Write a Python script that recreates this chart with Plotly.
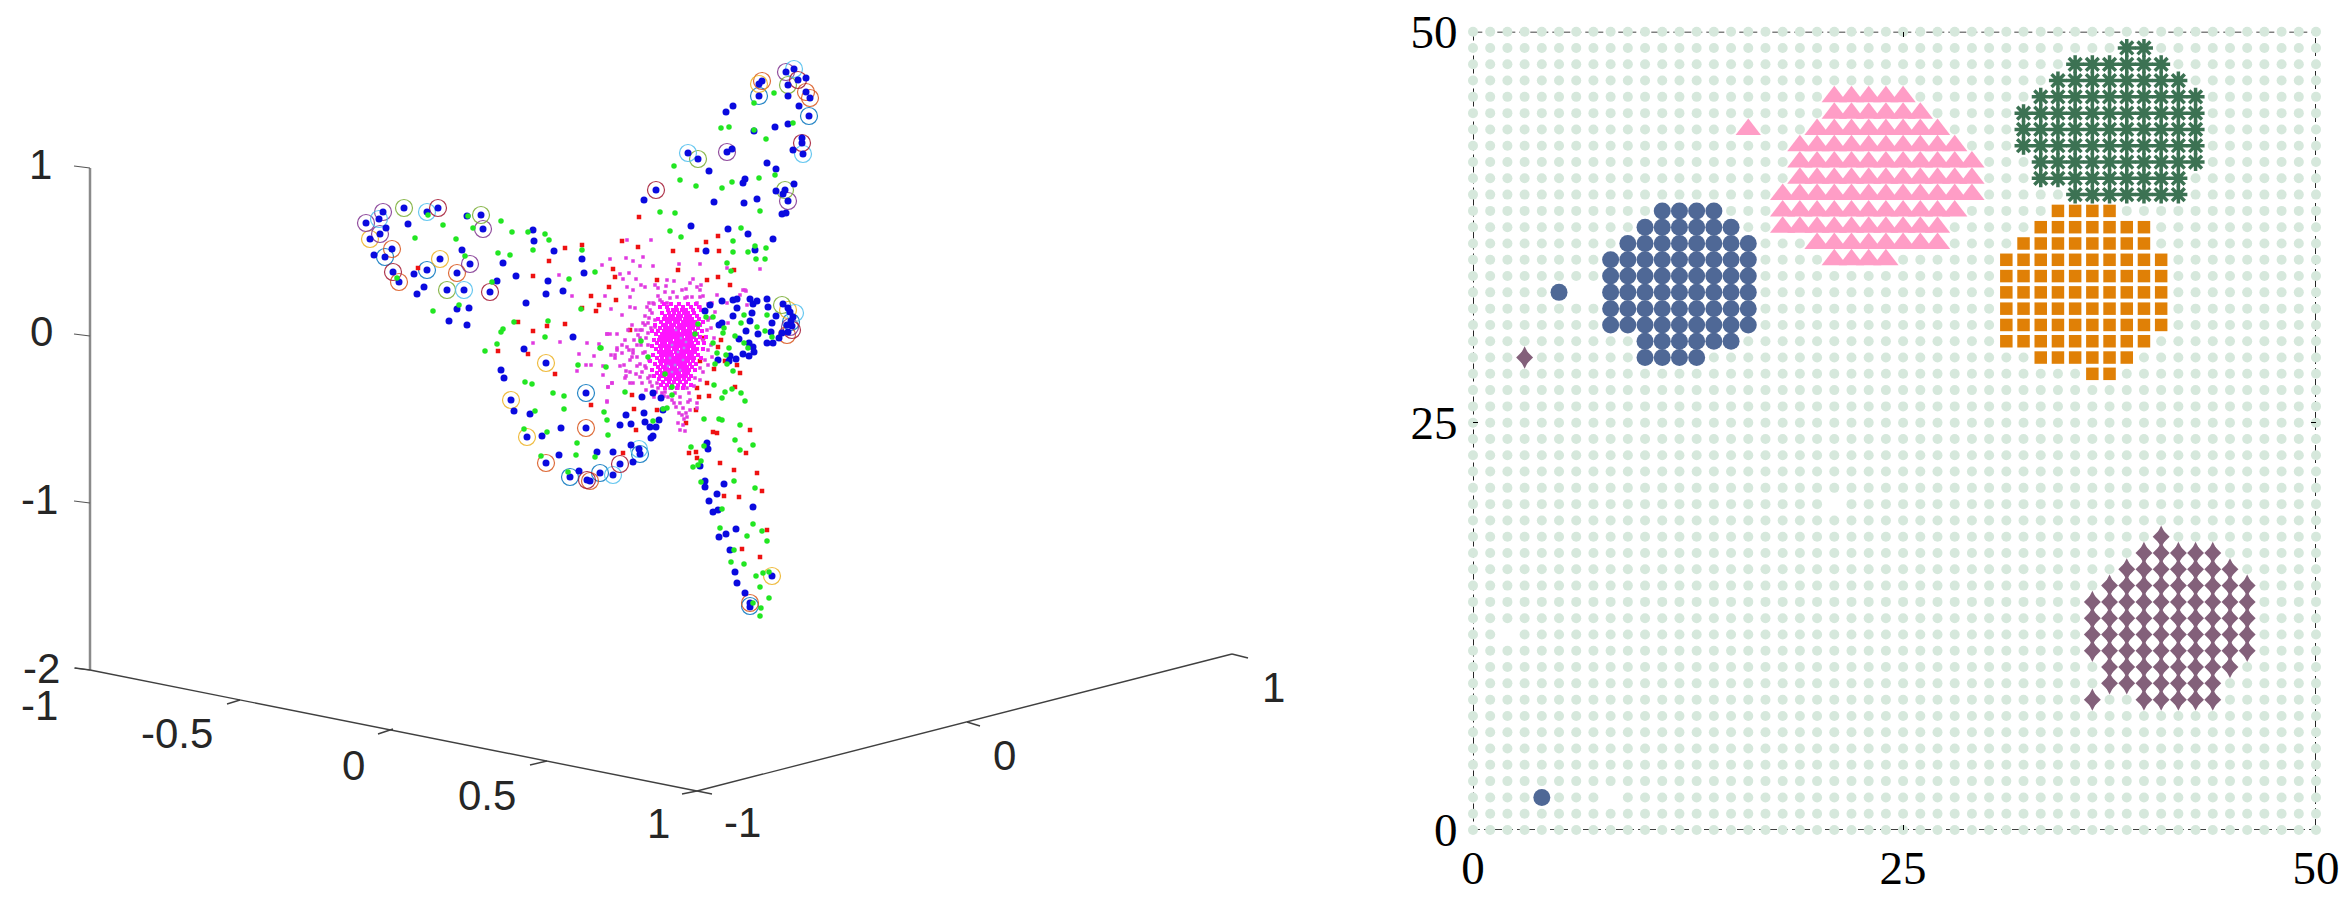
# -*- coding: utf-8 -*-
import plotly.graph_objects as go

W = 2348
H = 898

# ---- left panel: 3d view, values read as positions on the projected plane ----
blue_upper = [(786,72),(794,69),(798,80),(806,78),(762,81),(759,84),(788,85),(806,92),(810,98),(788,96),(759,96),
              (799,106),(809,116),(733,106),(726,112),(788,124),(775,127),(754,131),(802,138),(802,143),(793,150),
              (803,154),(732,149),(727,152),(688,153),(698,159),(767,163),(776,169),(709,171),(794,184),(745,179),
              (743,183),(656,190),(776,191),(785,190),(783,194),(788,201),(644,200),(757,199),(714,202),(744,203),
              (782,214),(786,213),(691,226),(728,229),(748,234),(773,239),(755,250),(706,251)]
blue_left = [(366,223),(379,219),(383,212),(386,228),(404,208),(408,224),(427,212),(438,208),(467,216),(481,215),
             (483,229),(380,234),(370,239),(392,249),(374,255),(385,257),(440,259),(462,250),(470,264),(427,270),
             (414,274),(393,272),(399,282),(457,273),(424,287),(417,294),(447,290),(464,290),(490,292),(457,309),
             (469,308),(449,321),(467,325),(533,230),(534,241),(554,251),(582,259),(503,263),(516,276),(497,281),
             (584,273),(548,281),(563,291),(546,294),(526,303),(573,337)]
blue_lobe = [(710,305),(705,311),(722,301),(733,300),(737,299),(737,308),(750,299),(753,304),(757,301),(767,299),
             (783,304),(768,307),(788,308),(790,312),(793,317),(791,321),(752,313),(733,316),(776,316),(750,321),
             (772,323),(722,323),(719,325),(787,325),(792,326),(746,331),(758,334),(771,332),(739,339),(779,338),
             (782,333),(788,332),(767,343),(773,343),(749,343),(753,347),(754,352),(743,354),(749,356),(730,356),
             (736,359),(718,360),(729,361)]
blue_lower = [(642,397),(661,398),(653,393),(626,415),(644,413),(620,425),(631,424),(645,422),(650,427),(656,427),
              (659,420),(653,436),(651,438),(524,349),(501,370),(504,378),(546,363),(586,393),(511,400),(514,411),
              (530,414),(663,410),(561,428),(586,428),(542,436),(527,437),(631,445),(597,452),(613,452),(639,449),
              (640,454),(559,455),(546,463),(633,462),(620,464),(600,473),(613,475),(579,471),(570,477),(587,480),
              (590,481)]
blue_tail = [(707,443),(708,449),(700,466),(705,481),(705,487),(724,484),(717,494),(709,501),(713,512),(718,510),
             (753,507),(736,529),(726,534),(719,537),(730,550),(735,572),(737,583),(772,576),(745,593),(750,603),
             (750,607)]

green_upper = [(774,93),(754,103),(793,123),(721,128),(729,127),(754,130),(766,139),(674,166),(775,175),(680,180),
               (696,186),(722,188),(732,182),(759,178),(660,212),(675,213),(760,211),(670,231),(741,228),(681,237),
               (733,241),(755,246),(766,248),(733,252),(748,252),(756,259),(765,259),(727,263),(731,271)]
green_left = [(428,215),(443,225),(415,238),(456,239),(468,216),(473,228),(501,221),(512,232),(528,232),(545,234),
              (549,240),(533,250),(498,253),(510,255),(582,250),(465,256),(569,279),(595,272),(492,282),(397,278),
              (459,305),(433,311),(581,309),(548,321),(514,322),(503,329),(501,332),(545,337)]
green_lobe = [(695,334),(698,324),(706,317),(713,317),(744,315),(741,323),(767,315),(724,328),(723,333),(757,327),
              (765,331),(713,343),(735,336),(772,337),(744,343),(748,348),(729,348),(717,353),(726,355),(727,364),
              (715,364),(733,371),(641,341),(648,357),(606,367),(665,374),(672,387),(672,395),(601,348)]
green_lower = [(497,344),(485,351),(600,348),(578,365),(525,382),(532,384),(553,393),(564,396),(564,409),(535,411),
               (604,412),(607,420),(608,435),(625,392),(663,409),(667,408),(653,421),(524,429),(547,432),(577,443),
               (576,455),(595,457),(541,456),(568,472)]
green_tail = [(714,385),(725,392),(732,389),(741,393),(722,398),(745,401),(704,419),(719,419),(722,420),(740,425),
              (735,440),(753,445),(691,447),(704,446),(740,450),(701,461),(693,467),(698,465),(734,481),(701,482),
              (755,488),(722,509),(753,524),(720,528),(762,531),(747,536),(767,541),(734,550),(731,562),(744,564),
              (769,572),(763,573),(756,576),(760,587),(769,598),(761,608),(760,616),(753,603)]

red_pts = [(639,217),(718,236),(706,242),(638,247),(673,251),(697,250),(719,251),(622,241),(582,245),(565,248),
           (549,261),(418,268),(533,276),(613,269),(615,277),(678,270),(734,270),(718,277),(707,280),(657,280),
           (730,285),(609,287),(591,296),(616,300),(599,305),(596,311),(582,308),(518,322),(547,326),(565,324),
           (533,331),(630,330),(703,338),(721,340),(718,347),(700,361),(725,361),(737,365),(714,369),(740,373),
           (707,383),(697,388),(735,387),(709,396),(699,397),(632,395),(634,409),(657,410),(686,423),(696,410),
           (636,430),(713,432),(717,433),(750,430),(498,351),(528,354),(555,374),(591,405),(689,453),(696,452),
           (697,458),(746,453),(720,463),(734,470),(757,473),(762,491),(724,496),(739,497),(767,530),(742,549),
           (760,557),(623,453)]

magenta_top = [(627,240),(651,240),(610,259),(602,265),(626,258),(633,261),(643,257),(640,266),(653,266),(679,264),
               (700,264),(760,269),(559,275),(629,273),(623,279),(620,274),(636,279),(641,285),(627,287),(633,290),
               (645,287),(572,296),(605,296),(630,297),(667,280),(674,281),(693,279),(666,286),(686,289),(697,287),
               (701,285),(655,285),(658,288),(743,290),(746,291),(727,268),(611,309),(622,315),(630,307),(635,308),
               (632,325),(645,316),(649,303),(653,303),(662,302),(670,298),(677,297),(685,298),(692,297),(700,297),
               (610,334),(607,334),(648,323),(655,327),(642,330),(638,335)]
magenta_side = [(617,334),(607,334),(617,348),(611,355),(615,355),(603,366),(625,340),(622,353),(624,365),(630,372),
                (626,376),(633,350),(632,357),(637,357),(643,353),(640,364),(645,366),(633,383),(642,383),(612,383),
                (608,387),(607,401),(650,382),(657,383),(648,333),(640,330),(643,323),(655,320),(647,307),(652,313),
                (660,300),(667,303),(673,292),(682,290),(690,283),(700,290),(697,303),(687,297),(707,330),(708,320),
                (715,312),(700,307),(703,340),(708,350),(705,360),(700,368),(695,378),(717,295),(727,303),(740,295),
                (745,290),(747,305),(728,323)]
magenta_low = [(675,393),(680,397),(687,388),(678,388),(689,393),(672,400),(680,403),(683,408),(690,400),(697,403),
               (697,408),(686,413),(679,413),(687,417),(678,423),(683,425),(680,430),(685,431),(676,407),(674,403),
               (665,392),(658,388),(662,393),(668,397),(670,388),(533,343),(560,342),(587,343),(599,344),(579,354),
               (594,356),(586,365),(591,365),(577,371),(603,375),(612,383),(608,387),(607,402),(617,350),(615,358),
               (620,366),(629,350),(633,353),(626,371),(625,378),(637,366),(640,377),(630,383),(688,402),(690,410),
               (682,415),(684,419)]
magenta_halo = [(649,318),(651,328),(646,338),(648,345),(645,352),(649,360),(646,368),(650,376),(652,386),(656,392),
                (664,396),(694,386),(700,380),(703,372),(708,365),(712,357),(711,345),(714,338),(711,328),(710,318),
                (705,310),(708,304),(650,310),(654,304),(645,325),(641,345),(640,338),(637,345),(636,330),(634,340),
                (628,330),(630,360),(627,347),(622,345),(636,374),(642,372),(648,378),(646,390),(654,397),(703,296),
                (712,303),(658,296),(665,292)]

core_y = [304,307,310,313,316,319,322,325,328,331,334,337,340,343,346,349,352,355,358,361,364,367,370,373,376,379,382,385,388]
core_x = [[664,671,679,688,696],
          [660,667,676,683,691,699],
          [668,673,677,682,686,693,701],
          [662,669,674,679,684,688,694],
          [665,670,673,678,681,686,690,697],
          [658,664,668,672,676,680,685,689,692,699],
          [661,667,670,675,678,683,687,691,695,703],
          [655,663,666,671,674,679,682,686,690,694,700],
          [660,665,669,672,677,681,684,689,693,698],
          [652,658,664,667,671,675,678,683,686,690,695,702],
          [656,662,666,670,673,677,681,685,688,692,697],
          [660,664,668,672,675,679,682,687,690,694,700,706],
          [654,659,663,667,671,676,680,683,687,691,696],
          [657,662,665,670,673,677,681,685,689,692,698,704],
          [652,660,664,668,672,675,679,683,686,690,694],
          [656,661,666,669,674,677,682,685,688,693,697,703],
          [659,663,667,671,676,679,683,687,691,695],
          [653,661,665,669,672,677,681,684,689,692,698],
          [657,662,667,670,674,678,682,686,690,694,701],
          [650,660,664,668,672,676,680,684,688,693],
          [655,661,666,670,674,678,682,685,690,696],
          [658,663,667,672,675,680,683,687,692],
          [652,660,665,669,673,677,681,685,689,695],
          [657,662,667,671,675,679,684,688],
          [654,660,664,669,673,678,682,686,691],
          [659,666,670,675,679,684,689],
          [663,669,674,680,686],
          [661,667,672,678,684,691],
          [665,671,677,683]]
core_flecks = [(676,330),(681,338),(672,345),(684,348),(678,352),(670,358),(683,360),(675,365),(680,370),(672,372),(686,342),(668,366)]

# circled points, one list per colour of the matlab order
ring_blue = [(759,96),(809,116),(385,257),(427,270),(586,393),(640,454),(600,473),(570,477),(750,606),(791,322)]
ring_orange = [(762,81),(810,98),(806,92),(392,249),(399,282),(457,273),(586,428),(546,463),(590,481),(750,603),(787,335)]
ring_yellow = [(759,84),(370,239),(440,259),(546,363),(511,400),(527,437),(772,576),(788,310)]
ring_purple = [(786,72),(727,152),(788,201),(366,223),(383,212),(380,234),(483,229),(470,264),(790,327)]
ring_green = [(788,85),(698,159),(785,190),(404,208),(481,215),(447,290),(782,305)]
ring_cyan = [(794,69),(803,154),(688,153),(379,219),(427,212),(464,290),(639,449),(613,475),(795,313)]
ring_red = [(798,80),(802,143),(656,190),(438,208),(393,272),(490,292),(620,464),(587,480),(792,330)]

z_ticks = [168, 336, 503, 670]
z_labels = ["1", "0", "-1", "-2"]
floor_x_line = [(90, 670), (697, 791)]
floor_y_line = [(697, 791), (1232, 654)]
x_tick_marks = [[(90,670),(75,668)], [(240,700),(227,704)], [(393,729),(378,734)], [(547,761),(530,765)], [(697,791),(682,794)]]
y_tick_marks = [[(697,791),(712,794)], [(967,722),(980,726)], [(1232,654),(1248,658)]]
left_labels = [("1",40,164),("0",41,331),("-1",39,499),("-2",41,668),("-1",39,705),("-0.5",177,733),("0",353,765),
               ("0.5",487,795),("1",658,823),("-1",742,822),("0",1004,755),("1",1273,687)]

# ---- right panel: grid map, rows with first and last occupied column ----
grid_cols = list(range(50))
grid_rows = list(range(50))
grid_holes = [(8,2),(2,12),(21,20),(6,33),(7,33)]

blue_row = [38,37,36,35,34,33,32,31,30,29]
blue_from = [11,10,9,8,8,8,8,8,10,10]
blue_to = [14,15,16,16,16,16,16,16,15,13]
blue_extra = [(5,33),(4,2)]

pink_row = [45,44,43,42,41,40,39,38,37,36,35]
pink_from = [21,21,20,19,19,19,18,18,18,20,21]
pink_to = [25,26,27,28,29,29,29,28,27,27,24]
pink_extra = [(16,43)]

star_row = [48,47,46,45,44,43,42,41,40,39]
star_from = [38,35,34,33,32,32,32,33,33,35]
star_to = [39,40,41,42,42,42,42,42,41,41]

orange_row = [38,37,36,35,34,33,32,31,30,29,28]
orange_from = [34,33,32,31,31,31,31,31,31,33,36]
orange_to = [37,39,39,40,40,40,40,40,39,38,37]

mauve_row = [18,17,16,15,14,13,12,11,10,9,8]
mauve_from = [40,39,38,37,36,36,36,36,37,37,39]
mauve_to = [40,43,44,45,45,45,45,45,44,43,43]
mauve_extra = [(3,29),(36,8)]


def cells(rows, first, last, extra=()):
    out = []
    for r, a, b in zip(rows, first, last):
        out += [(c, r) for c in range(a, b + 1)]
    return out + list(extra)


blue_cells = cells(blue_row, blue_from, blue_to, blue_extra)
pink_cells = cells(pink_row, pink_from, pink_to, pink_extra)
star_cells = cells(star_row, star_from, star_to)
orange_cells = cells(orange_row, orange_from, orange_to)
mauve_cells = cells(mauve_row, mauve_from, mauve_to, mauve_extra)
taken = set(blue_cells + pink_cells + star_cells + orange_cells + mauve_cells + grid_holes)
bg_cells = [(c, r) for r in grid_rows for c in grid_cols if (c, r) not in taken]

fig = go.Figure()


def add_pts(pts, color, size, symbol="circle", xa="x", ya="y", line=None, opacity=1):
    marker = dict(color=color, size=size, symbol=symbol, opacity=opacity)
    if line:
        marker["line"] = line
    else:
        marker["line"] = dict(width=0)
    fig.add_trace(go.Scatter(x=[p[0] for p in pts], y=[p[1] for p in pts], mode="markers",
                             marker=marker, xaxis=xa, yaxis=ya, cliponaxis=False, showlegend=False))


# axes of the 3d box
fig.add_trace(go.Scatter(x=[90, 90], y=[z_ticks[0], z_ticks[-1]], mode="lines",
                         line=dict(color="#8a8a8a", width=2.5), showlegend=False))
for t in z_ticks:
    fig.add_trace(go.Scatter(x=[74, 90], y=[t - 2, t], mode="lines", line=dict(color="#555555", width=1.2), showlegend=False))
for seg in [floor_x_line, floor_y_line] + x_tick_marks + y_tick_marks:
    fig.add_trace(go.Scatter(x=[p[0] for p in seg], y=[p[1] for p in seg], mode="lines",
                             line=dict(color="#404040", width=1.4), showlegend=False))

# rings go under the points
for pts, col in [(ring_blue, "#0072BD"), (ring_orange, "#D95319"), (ring_yellow, "#EDB120"), (ring_purple, "#7E2F8E"),
                 (ring_green, "#77AC30"), (ring_cyan, "#4DBEEE"), (ring_red, "#A2142F")]:
    add_pts(pts, "rgba(0,0,0,0)", 17, line=dict(color=col, width=1.2), opacity=0.85)

add_pts(red_pts, "#ee1111", 4.5, "square")
add_pts(magenta_top + magenta_side + magenta_low + magenta_halo, "#e03ae0", 3.5, "square")
core_pts = [(x, y) for y, xs in zip(core_y, core_x) for x in xs]
add_pts(core_pts, "#ff14ff", 4, "square")
add_pts(core_flecks, "#a78be8", 2.5, "square")
add_pts(blue_upper + blue_left + blue_lobe + blue_lower + blue_tail, "#0a0adf", 7)
add_pts(green_upper + green_left + green_lobe + green_lower + green_tail, "#22e622", 5.5)

# right panel
add_pts(bg_cells, "#d6e8dc", 10, xa="x2", ya="y2")
add_pts(blue_cells, "#4f6896", 17, xa="x2", ya="y2")
add_pts(pink_cells, "#ff9dc6", 22, "triangle-up", xa="x2", ya="y2")
add_pts(star_cells, "#3c7253", 15, "asterisk", xa="x2", ya="y2", line=dict(color="#3c7253", width=3.5))
add_pts(orange_cells, "#e08006", 12.5, "square", xa="x2", ya="y2")
# a plain diamond and a tall one together give the stretched shape of the original
add_pts(mauve_cells, "#83607a", 13, "diamond", xa="x2", ya="y2")
add_pts(mauve_cells, "#83607a", 16, "diamond-tall", xa="x2", ya="y2")

for text, lx, ly in left_labels:
    fig.add_annotation(x=lx, y=ly, xref="x", yref="y", text=text, showarrow=False,
                       font=dict(family="Liberation Sans", size=42, color="#262626"))

fig.add_shape(type="rect", xref="x2", yref="y2", x0=0, x1=49, y0=0, y1=49, layer="below",
              line=dict(color="black", width=1.7, dash="7px,4px"))

serif = dict(family="Liberation Serif", size=47, color="black")
fig.update_layout(
    width=W, height=H, margin=dict(l=0, r=0, t=0, b=0), paper_bgcolor="white", plot_bgcolor="white",
    showlegend=False, hovermode=False,
    xaxis=dict(domain=[0, 1400 / W], range=[0, 1400], visible=False, automargin=False),
    yaxis=dict(domain=[0, 1], range=[H, 0], visible=False, automargin=False),
    xaxis2=dict(domain=[1473 / W, 2316 / W], range=[0, 49], anchor="y2", tickvals=[0, 25, 49], ticktext=["0", "25", "50"],
                tickfont=serif, ticks="inside", ticklen=5, tickcolor="black", showgrid=False, zeroline=False, automargin=False,
                showline=True, linecolor="rgba(0,0,0,0)", mirror="ticks", ticklabelstandoff=-3),
    yaxis2=dict(domain=[68 / H, 866.3 / H], range=[0, 49], anchor="x2", tickvals=[0, 25, 49], ticktext=["0", "25", "50"],
                tickfont=serif, ticks="inside", ticklen=5, tickcolor="black", showgrid=False, zeroline=False, automargin=False,
                showline=True, linecolor="rgba(0,0,0,0)", mirror="ticks", ticklabelstandoff=5),
)

fig.write_html("out.html", config={"displayModeBar": False},
               post_script="document.body.style.margin='0';document.documentElement.style.overflow='hidden';")
